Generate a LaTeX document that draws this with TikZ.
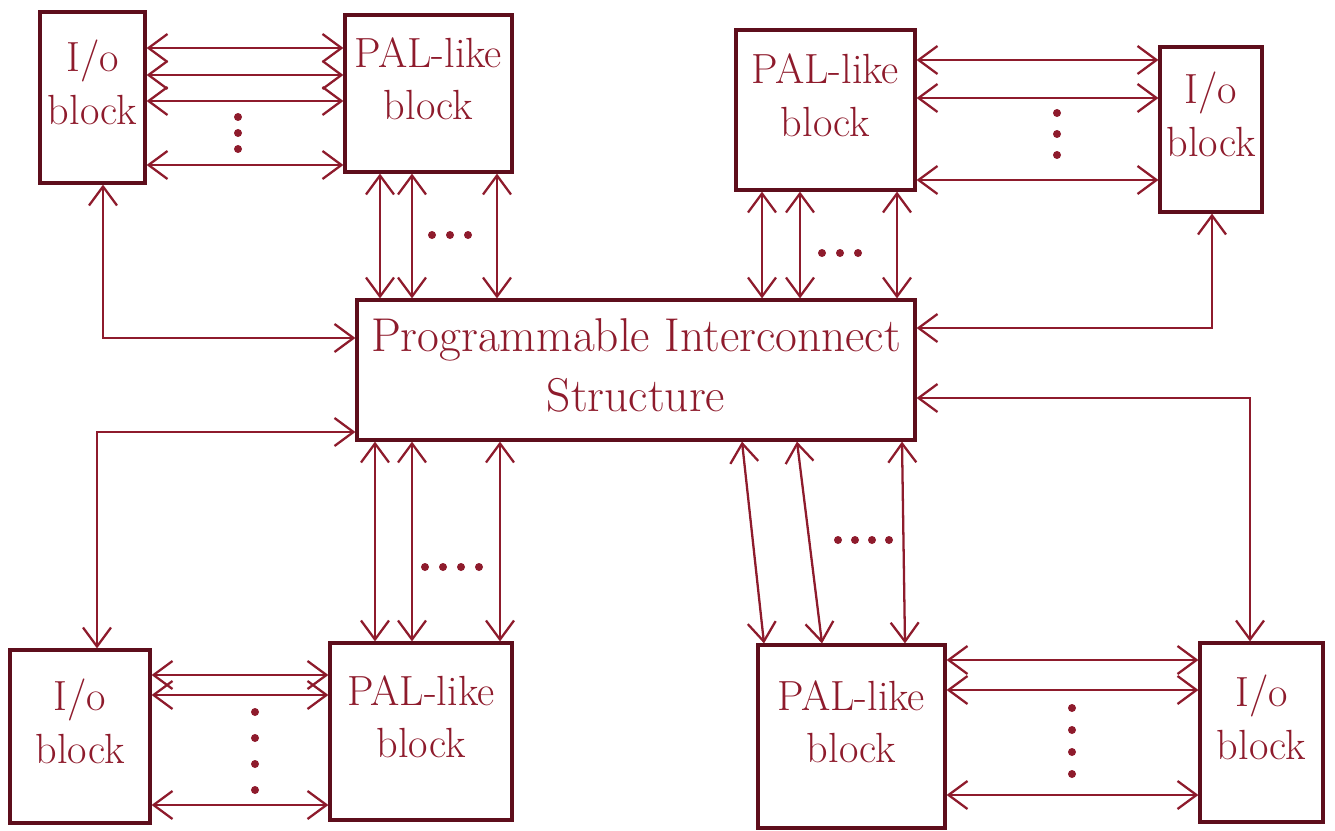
\documentclass[tikz,border=0pt]{standalone}
\usepackage{tikz}
\usetikzlibrary{arrows.meta,positioning,calc}
\definecolor{ink}{HTML}{8E1B2C}
\definecolor{inkD}{HTML}{5E0E1C}
\tikzset{
  blk/.style={rectangle, draw=inkD, line width=1.8pt, align=center, font=\fontsize{24}{30}\selectfont,
              text=ink, inner sep=0pt, text depth=6mm},
  darr/.style={{Straight Barb[length=3.8mm,width=5.6mm]}-{Straight Barb[length=3.8mm,width=5.6mm]},
               line width=1.3pt, draw=ink},
  pt/.style={fill=ink},
}
\begin{document}
\begin{tikzpicture}[x=0.2mm, y=-0.2mm]
  \useasboundingbox (0,0) rectangle (1335,831);
  % blocks
  \node[blk, minimum width=21mm, minimum height=34.2mm] (io1) at (92.5,97.5) {I/o\\block};
  \node[blk, minimum width=33.4mm, minimum height=31.4mm] (pal1) at (428.5,93.5) {PAL-like\\block};
  \node[blk, minimum width=35.8mm, minimum height=32mm] (pal2) at (825.5,110) {PAL-like\\block};
  \node[blk, minimum width=20.4mm, minimum height=33mm] (io2) at (1211,129.5) {I/o\\block};
  \node[blk, font=\fontsize{27}{34}\selectfont, text depth=2mm, minimum width=111.6mm, minimum height=28mm]
    (pis) at (636,370) {Programmable Interconnect\\Structure};
  \node[blk, minimum width=28mm, minimum height=34.6mm] (io3) at (80,736.5) {I/o\\block};
  \node[blk, minimum width=36.4mm, minimum height=35.4mm] (pal3) at (421,731.5) {PAL-like\\block};
  \node[blk, minimum width=37.4mm, minimum height=36.6mm] (pal4) at (851.5,736.5) {PAL-like\\block};
  \node[blk, minimum width=24.6mm, minimum height=35.8mm] (io4) at (1261.5,732.5) {I/o\\block};

  % I/O <-> PAL
  \foreach \y in {48,75,101,165}
    \draw[darr] (io1.east |- 0,\y) -- (pal1.west |- 0,\y);
  \foreach \y in {60,98,180}
    \draw[darr] (pal2.east |- 0,\y) -- (io2.west |- 0,\y);
  \foreach \y in {675,695,805}
    \draw[darr] (io3.east |- 0,\y) -- (pal3.west |- 0,\y);
  \foreach \y in {660,690,795}
    \draw[darr] (pal4.east |- 0,\y) -- (io4.west |- 0,\y);

  % PAL <-> interconnect
  \foreach \x in {380,412,497}
    \draw[darr] (pal1.south -| \x,0) -- (pis.north -| \x,0);
  \foreach \x in {762,800,897}
    \draw[darr] (pal2.south -| \x,0) -- (pis.north -| \x,0);
  \foreach \x in {375,412,500}
    \draw[darr] (pis.south -| \x,0) -- (pal3.north -| \x,0);
  \foreach \a/\b in {742/764,797/822,902/905}
    \draw[darr] (pis.south -| \a,0) -- (pal4.north -| \b,0);

  % I/O <-> interconnect
  \draw[darr] (io1.south -| 103,0) |- (pis.west |- 0,338);
  \draw[darr] (io2.south -| 1212,0) |- (pis.east |- 0,328);
  \draw[darr] (pis.east |- 0,398) -| (io4.north -| 1250,0);
  \draw[darr] (pis.west |- 0,432) -| (io3.north -| 97,0);

  % dots
  \foreach \y in {117,133,149} \fill[pt] (238,\y) circle (0.8mm);
  \foreach \y in {113,134,155} \fill[pt] (1057,\y) circle (0.8mm);
  \foreach \y in {712,738,764,790} \fill[pt] (255,\y) circle (0.8mm);
  \foreach \y in {708,730,752,774} \fill[pt] (1072,\y) circle (0.8mm);
  \foreach \x in {432,450,468} \fill[pt] (\x,235) circle (0.8mm);
  \foreach \x in {822,840,858} \fill[pt] (\x,253) circle (0.8mm);
  \foreach \x in {425,443,461,479} \fill[pt] (\x,567) circle (0.8mm);
  \foreach \x in {838,855,872,889} \fill[pt] (\x,540) circle (0.8mm);
\end{tikzpicture}
\end{document}
